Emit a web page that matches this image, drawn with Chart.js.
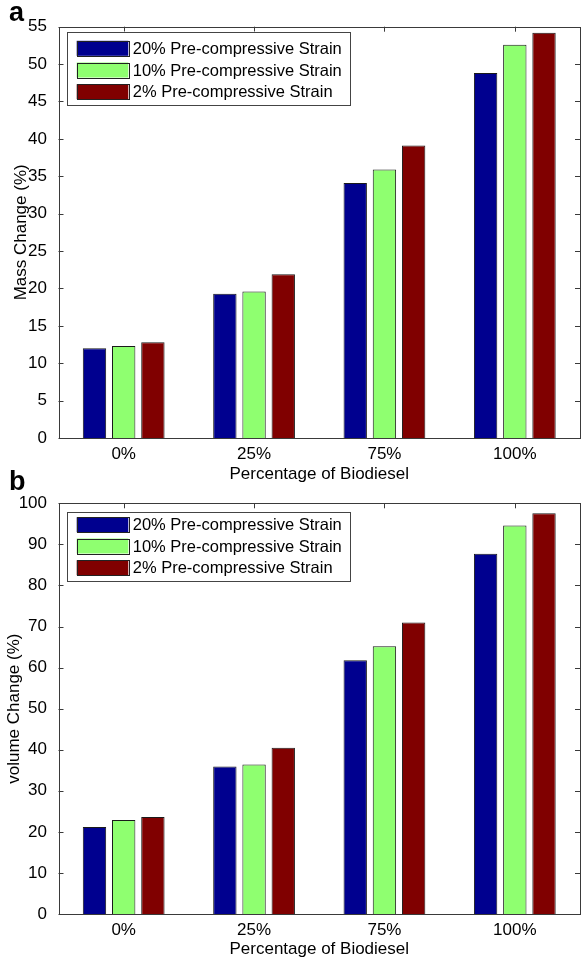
<!DOCTYPE html>
<html><head><meta charset="utf-8">
<script src="https://cdn.jsdelivr.net/npm/chart.js@4"></script>
<style>
html,body{margin:0;padding:0;background:#fff;width:581px;height:964px;overflow:hidden}
.wrap{position:absolute;left:0;width:581px}
#wa{top:0;height:490px}
#wb{top:460px;height:504px}
canvas{display:block}
</style></head><body>
<div class="wrap" id="wa"><canvas id="ca" width="581" height="490"></canvas></div>
<div class="wrap" id="wb"><canvas id="cb" width="581" height="504"></canvas></div>
<script>
// ---- data ----
const categories = ['0%', '25%', '75%', '100%'];
const seriesLabels = ['20% Pre-compressive Strain', '10% Pre-compressive Strain', '2% Pre-compressive Strain'];
const seriesColors = ['#00008F', '#8FFF70', '#800000'];
const massStrain20 = [12.0, 19.3, 34.1, 48.8];
const massStrain10 = [12.3, 19.6, 35.9, 52.6];
const massStrain2  = [12.8, 21.9, 39.1, 54.2];
const volStrain20  = [21.2, 35.9, 61.8, 87.7];
const volStrain10  = [22.9, 36.4, 65.2, 94.6];
const volStrain2   = [23.6, 40.5, 71.0, 97.6];
const massTicks = {min: 0, max: 55, step: 5};
const volTicks  = {min: 0, max: 100, step: 10};
const xTitle = 'Percentage of Biodiesel';

const FONT = "'Liberation Sans', Arial, Helvetica, sans-serif";
Chart.defaults.font.family = FONT;
Chart.defaults.color = '#000';
const AX = '#3a3a3a';

const framePlugin = {
  id: 'frame',
  beforeDatasetsDraw(chart) {
    const {ctx, chartArea: a, scales: {x, y}} = chart;
    ctx.save();
    ctx.strokeStyle = AX; ctx.lineWidth = 1;
    ctx.beginPath();
    x.ticks.forEach((t, i) => {
      const px = Math.round(x.getPixelForTick(i)) + 0.5;
      ctx.moveTo(px, a.top); ctx.lineTo(px, a.top + 5);
      ctx.moveTo(px, a.bottom); ctx.lineTo(px, a.bottom - 5);
    });
    y.ticks.forEach((t, i) => {
      const py = Math.round(y.getPixelForTick(i)) + 0.5;
      ctx.moveTo(a.left, py); ctx.lineTo(a.left + 5, py);
      ctx.moveTo(a.right, py); ctx.lineTo(a.right - 5, py);
    });
    ctx.stroke();
    ctx.restore();
  },
  afterDatasetsDraw(chart, args, opts) {
    const {ctx, chartArea: a} = chart;
    ctx.save();
    ctx.strokeStyle = AX; ctx.lineWidth = 1;
    ctx.strokeRect(Math.round(a.left) + 0.5, Math.round(a.top) + 0.5,
                   Math.round(a.right - a.left) - 1, Math.round(a.bottom - a.top));
    // legend
    const L = opts.legend;
    ctx.font = '16.5px ' + FONT;
    let maxW = 0;
    chart.data.datasets.forEach(d => { maxW = Math.max(maxW, ctx.measureText(d.label).width); });
    const bx = a.left + L.dx, by = a.top + L.dy;
    const bw = L.textX + maxW + 8, bh = L.h;
    ctx.fillStyle = '#fff';
    ctx.fillRect(bx, by, bw, bh);
    ctx.strokeStyle = '#444';
    ctx.strokeRect(Math.round(bx) + 0.5, Math.round(by) + 0.5, Math.round(bw), Math.round(bh));
    chart.data.datasets.forEach((d, i) => {
      const cy = by + L.rows[i];
      ctx.fillStyle = d.backgroundColor;
      ctx.fillRect(bx + L.swX, cy - L.swH / 2, L.swW, L.swH);
      ctx.strokeStyle = '#222';
      ctx.strokeRect(Math.round(bx + L.swX) + 0.5, Math.round(cy - L.swH / 2) + 0.5, Math.round(L.swW), Math.round(L.swH));
      ctx.fillStyle = '#000';
      ctx.textBaseline = 'middle';
      ctx.textAlign = 'left';
      ctx.fillText(d.label, bx + L.textX, cy + 1);
    });
    // panel letter
    ctx.font = 'bold 27px ' + FONT;
    ctx.fillStyle = '#000';
    ctx.textBaseline = 'alphabetic';
    ctx.fillText(opts.letter, opts.letterX, opts.letterY);
    ctx.restore();
  }
};

function makeChart(id, values, yr, yTitle, cfg) {
  const datasets = values.map((v, i) => ({
    label: seriesLabels[i],
    data: v,
    backgroundColor: seriesColors[i],
    borderColor: '#1a1a1a',
    borderWidth: 1,
    categoryPercentage: 0.672,
    barPercentage: 0.8
  }));
  return new Chart(document.getElementById(id), {
    type: 'bar',
    data: {labels: categories, datasets},
    plugins: [framePlugin],
    options: {
      responsive: false,
      animation: false,
      devicePixelRatio: 1,
      layout: {padding: {left: 0, right: 1, top: cfg.top, bottom: 0}},
      plugins: {
        legend: {display: false},
        tooltip: {enabled: false},
        frame: {legend: cfg.legend, letter: cfg.letter, letterX: cfg.letterX, letterY: cfg.letterY}
      },
      scales: {
        x: {
          grid: {display: false},
          border: {display: false},
          ticks: {font: {size: 17}, color: '#000', padding: cfg.xTickPad, maxRotation: 0},
          title: {display: true, text: xTitle, font: {size: 17}, color: '#000', padding: {top: 0, bottom: cfg.xTitlePad}},
          afterFit(s) { s.height = cfg.xH; }
        },
        y: {
          min: yr.min, max: yr.max,
          grid: {display: false},
          border: {display: false},
          ticks: {stepSize: yr.step, font: {size: 17}, color: '#000', padding: 3.5},
          title: {display: true, text: yTitle, font: {size: 17}, color: '#000', padding: {top: cfg.yTitlePad, bottom: 0}},
          afterFit(s) { s.width = 58.5; }
        }
      }
    }
  });
}

makeChart('ca', [massStrain20, massStrain10, massStrain2], massTicks, 'Mass Change (%)', {
  top: 26.7, xH: 52, xTickPad: -1.5, xTitlePad: 5.8, yTitlePad: 10.8,
  legend: {dx: 8.2, dy: 5, h: 73.3, rows: [16.6, 38.3, 60], swX: 10, swW: 51.6, swH: 15, textX: 66},
  letter: 'a', letterX: 9, letterY: 21
});
makeChart('cb', [volStrain20, volStrain10, volStrain2], volTicks, 'volume Change (%)', {
  top: 43.3, xH: 50, xTickPad: -1.5, xTitlePad: 4.8, yTitlePad: 3.8,
  legend: {dx: 8.2, dy: 8.4, h: 69, rows: [13, 34.3, 56], swX: 10, swW: 51.6, swH: 15, textX: 66},
  letter: 'b', letterX: 9, letterY: 30
});
</script>
</body></html>
